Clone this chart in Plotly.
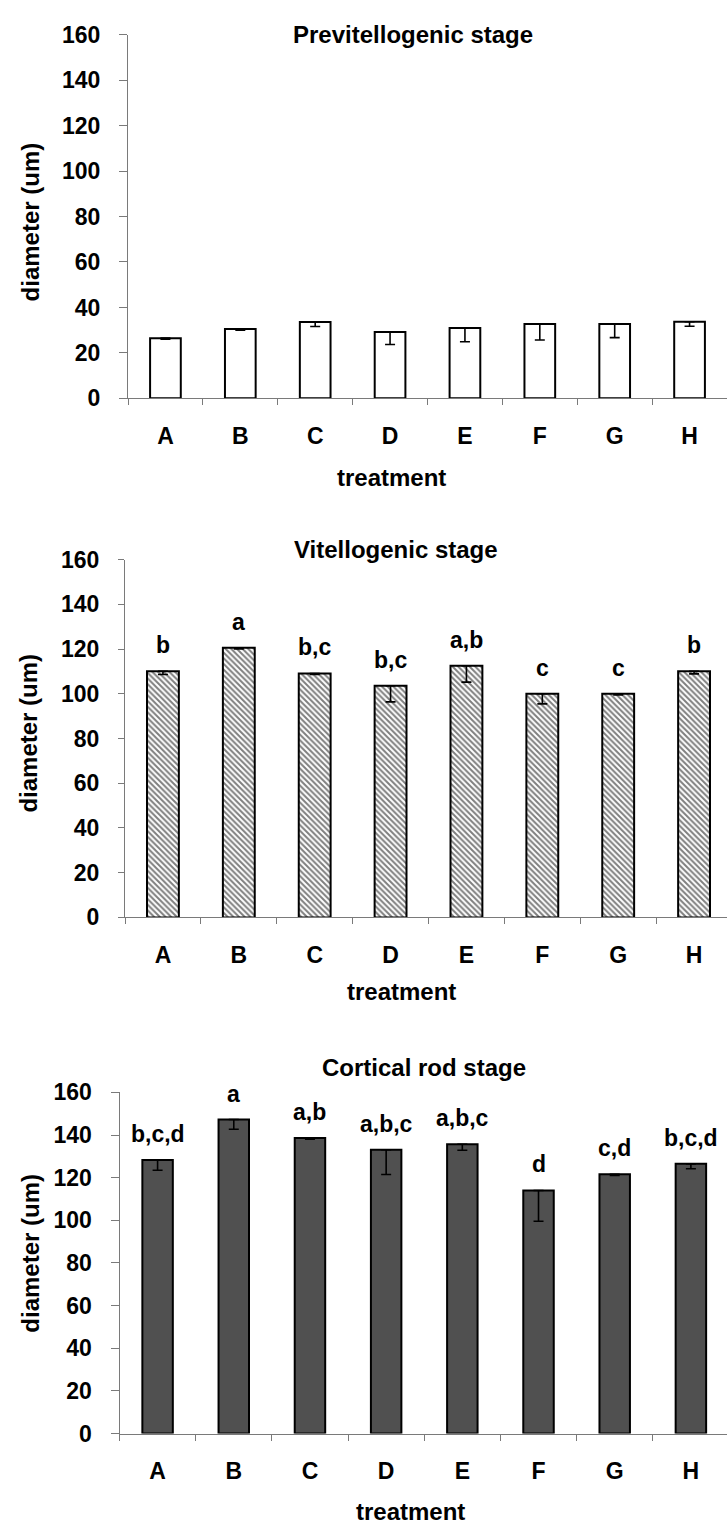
import plotly.graph_objects as go

# ---------------- data ----------------
treatments = ["A", "B", "C", "D", "E", "F", "G", "H"]

previt_mean = [26.5, 30.5, 33.6, 29.2, 30.9, 32.7, 32.7, 33.7]
previt_err = [0.5, 0.5, 2.0, 5.5, 6.0, 7.0, 6.0, 2.0]

vitel_mean = [110.1, 120.6, 109.1, 103.6, 112.5, 100.0, 100.0, 110.1]
vitel_err = [1.5, 0.5, 0.5, 7.2, 7.3, 4.5, 0.5, 1.2]
vitel_letters = ["b", "a", "b,c", "b,c", "a,b", "c", "c", "b"]

cort_mean = [128.3, 147.3, 138.6, 133.1, 135.7, 114.0, 121.6, 126.5]
cort_err = [4.8, 4.6, 0.5, 11.6, 2.8, 14.4, 0.5, 2.3]
cort_letters = ["b,c,d", "a", "a,b", "a,b,c", "a,b,c", "d", "c,d", "b,c,d"]

titles = ["Previtellogenic stage", "Vitellogenic stage", "Cortical rod stage"]
y_ticks = [0, 20, 40, 60, 80, 100, 120, 140, 160]

# ---------------- layout helpers ----------------
W, H = 727, 1537
FONT = "Liberation Sans, Arial, sans-serif"


def fx(p):
    return p / W


def fy(p):
    return (H - p) / H


panels = [
    dict(x0=128, top=22, bot=392, xr=[-0.5, 7.5], ylen=8),
    dict(x0=125, top=556, bot=920, xr=[-0.5, 7.434], ylen=6),
    dict(x0=119.5, top=1098, bot=1445, xr=[-0.5, 7.474], ylen=8),
]

fig = go.Figure()

err_style = dict(type="data", symmetric=False, color="black", thickness=1.6, width=5)

# Panel 1: white bars
fig.add_trace(go.Bar(
    x=treatments, y=previt_mean, width=0.41,
    marker=dict(color="white", line=dict(color="black", width=2)),
    error_y=dict(array=[0] * len(previt_err), arrayminus=previt_err, **err_style),
    xaxis="x", yaxis="y", showlegend=False,
))

# Panel 2: hatched bars
fig.add_trace(go.Bar(
    x=treatments, y=vitel_mean, width=0.42,
    marker=dict(color="white", line=dict(color="black", width=2),
                pattern=dict(shape="\\", fgcolor="black", bgcolor="white",
                             size=4, solidity=0.5)),
    error_y=dict(array=[0] * len(vitel_err), arrayminus=vitel_err, **err_style),
    xaxis="x2", yaxis="y2", showlegend=False,
))

# Panel 3: dark grey bars
fig.add_trace(go.Bar(
    x=treatments, y=cort_mean, width=0.40,
    marker=dict(color="#505050", line=dict(color="black", width=2)),
    error_y=dict(array=[0] * len(cort_err), arrayminus=cort_err, **err_style),
    xaxis="x3", yaxis="y3", showlegend=False,
))

axis_font = dict(family=FONT, size=23, color="black", weight="bold")

layout = dict(
    width=W, height=H,
    margin=dict(l=0, r=0, t=0, b=0),
    paper_bgcolor="white", plot_bgcolor="white",
)

for i, p in enumerate(panels):
    sfx = "" if i == 0 else str(i + 1)
    layout["xaxis" + sfx] = dict(
        domain=[fx(p["x0"]), 1.0],
        anchor="y" + sfx,
        type="category",
        range=p["xr"],
        showline=True, linecolor="#7a7a7a", linewidth=1,
        ticks="outside", tickson="boundaries", ticklen=6, tickcolor="#7a7a7a",
        tickfont=axis_font, ticklabelstandoff=17,
        showgrid=False, zeroline=False, fixedrange=True,
    )
    layout["yaxis" + sfx] = dict(
        domain=[fy(p["bot"]), fy(p["top"])],
        anchor="x" + sfx,
        range=[0, 160],
        tickvals=y_ticks,
        showline=True, linecolor="#7a7a7a", linewidth=1,
        ticks="outside", ticklen=p["ylen"], tickcolor="#7a7a7a",
        tickfont=axis_font, ticklabelstandoff=14,
        showgrid=False, zeroline=False, fixedrange=True,
    )

fig.update_layout(**layout)

annotations = []
title_pos = [(413, 22), (396, 546), (424, 1073)]
xlab_pos = [(391, 472), (401, 995), (410, 1524)]
ylab_pos = [(30, 213), (29, 733), (31, 1262)]

for i in range(3):
    tx, ty = title_pos[i]
    annotations.append(dict(x=fx(tx), y=fy(ty), xref="paper", yref="paper",
                            text=titles[i], showarrow=False,
                            xanchor="center", yanchor="middle",
                            font=dict(family=FONT, size=24, color="black", weight="bold")))
    lx, ly = xlab_pos[i]
    annotations.append(dict(x=fx(lx), y=fy(ly), xref="paper", yref="paper",
                            text="treatment", showarrow=False,
                            xanchor="center", yanchor="middle",
                            font=dict(family=FONT, size=24, color="black", weight="bold")))
    vx, vy = ylab_pos[i]
    annotations.append(dict(x=fx(vx), y=fy(vy), xref="paper", yref="paper",
                            text="diameter (um)", showarrow=False, textangle=-90,
                            xanchor="center", yanchor="middle",
                            font=dict(family=FONT, size=24, color="black", weight="bold")))

for xr, yr, means, letters in [("x2", "y2", vitel_mean, vitel_letters),
                               ("x3", "y3", cort_mean, cort_letters)]:
    for t, m, lab in zip(treatments, means, letters):
        annotations.append(dict(x=t, y=m, xref=xr, yref=yr, text=lab,
                                showarrow=False, yanchor="middle", yshift=26,
                                font=dict(family=FONT, size=23, color="black", weight="bold")))

fig.update_layout(annotations=annotations)

fig.write_html(
    "out.html",
    config={"displayModeBar": False, "staticPlot": True},
    post_script="document.body.style.margin='0';document.body.style.overflow='hidden';",
)
